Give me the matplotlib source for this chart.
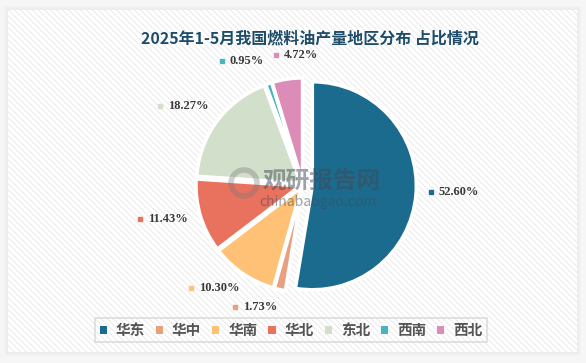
import matplotlib.pyplot as plt
import matplotlib.patches as mpatches
import numpy as np

plt.rcParams['font.family'] = ['Noto Sans CJK SC', 'DejaVu Sans']

regions = ['华东', '华中', '华南', '华北', '东北', '西南', '西北']
shares = [52.60, 1.73, 10.30, 11.43, 18.27, 0.95, 4.72]
colors = ['#1B6B8F', '#E9A07F', '#FFC175', '#E9725F', '#D2DFCB', '#4AB3C0', '#DC8DB7']
title = '2025年1-5月我国燃料油产量地区分布 占比情况'

W, H = 586, 363
fig = plt.figure(figsize=(W / 100, H / 100), dpi=100)
fig.patch.set_facecolor('#F6F6F6')
ax = fig.add_axes([0, 0, 1, 1])

# card with soft shadow and diagonal stripes
x0, x1, y0, y1 = 8, 577, 11, 353
for k, a in zip([4, 3, 2, 1], [0.25, 0.4, 0.6, 0.8]):
    ax.add_patch(mpatches.Rectangle((x0 - k, y0 - k), x1 - x0 + 2 * k, y1 - y0 + 2 * k,
                                    facecolor='#EDEDED', edgecolor='none', alpha=a, zorder=0))
rows, cols = np.mgrid[0:y1 - y0, 0:x1 - x0]
stripe = ((cols - rows) % 6) < 2
img = np.where(stripe[..., None], np.array([0.945, 0.945, 0.945]), np.array([1.0, 1.0, 1.0]))
ax.imshow(img, extent=(x0, x1, y0, y1), origin='upper', interpolation='nearest', zorder=0.5)

cx, cy, R = 303, 178, 104
explode = [0.09, 0.03, 0.03, 0.03, 0.03, 0.03, 0.03]
wedges, _ = ax.pie(shares, colors=colors, startangle=90, counterclock=False,
                   center=(cx, cy), radius=R, explode=[e * R for e in explode],
                   wedgeprops=dict(edgecolor='white', linewidth=2.5, zorder=2), frame=True)
ax.set_xlim(0, W)
ax.set_ylim(0, H)
ax.set_aspect('auto')
ax.axis('off')

# outside labels (nudged right when they would collide)
placed = []
cum = 0
for v, c in zip(shares, colors):
    mid = np.deg2rad(90 - (cum + v / 2) * 3.6)
    cum += v
    x = cx + 128 * np.cos(mid)
    y = cy + 3 + 128 * np.sin(mid)
    if np.cos(mid) < 0:
        x -= 40
    for px0, px1, py in placed:
        if abs(py - y) < 13 and px0 - 4 < x < px1 + 4:
            x = px1 + 4
    placed.append((x, x + 50, y))
    ax.plot(x, y, 's', ms=2.5, color=c, zorder=5)
    ax.text(x + 8, y, f'{v:.2f}%', fontsize=9, fontweight='bold',
            family='Liberation Serif', color='#3A3A3A', va='center', ha='left', zorder=5)

# watermark
ax.text(322, 182, '观研报告网', fontsize=17, fontweight='bold', color='#3F4A55',
        alpha=0.5, ha='center', va='center', zorder=6)
ax.text(318, 161, 'chinabaogao.com', fontsize=10, color='#3F4A55',
        alpha=0.5, ha='center', va='center', zorder=6)
ax.add_patch(mpatches.Circle((244, 180), 13, facecolor='none', edgecolor='#777777',
                             lw=4, alpha=0.35, zorder=6))

ax.text(310, 325, title, fontsize=11.5, fontweight='bold', color='#1E4D69',
        ha='center', va='center', zorder=6)

handles = [mpatches.Patch(facecolor=c, edgecolor='none') for c in colors]
leg = fig.legend(handles, regions, loc='center', bbox_to_anchor=(291 / W, 1 - 330 / H),
                 ncol=7, frameon=True, fancybox=False, fontsize=10.5,
                 handlelength=0.5, handleheight=0.5, handletextpad=0.6,
                 columnspacing=0.75, borderpad=0.3, borderaxespad=0)
leg.get_frame().set_edgecolor('#D6D6D6')
leg.get_frame().set_linewidth(1.2)
leg.get_frame().set_facecolor('none')
for t in leg.get_texts():
    t.set_color('#555555')
    t.set_fontweight('bold')

fig.savefig('out.png', dpi=100, facecolor=fig.get_facecolor())
